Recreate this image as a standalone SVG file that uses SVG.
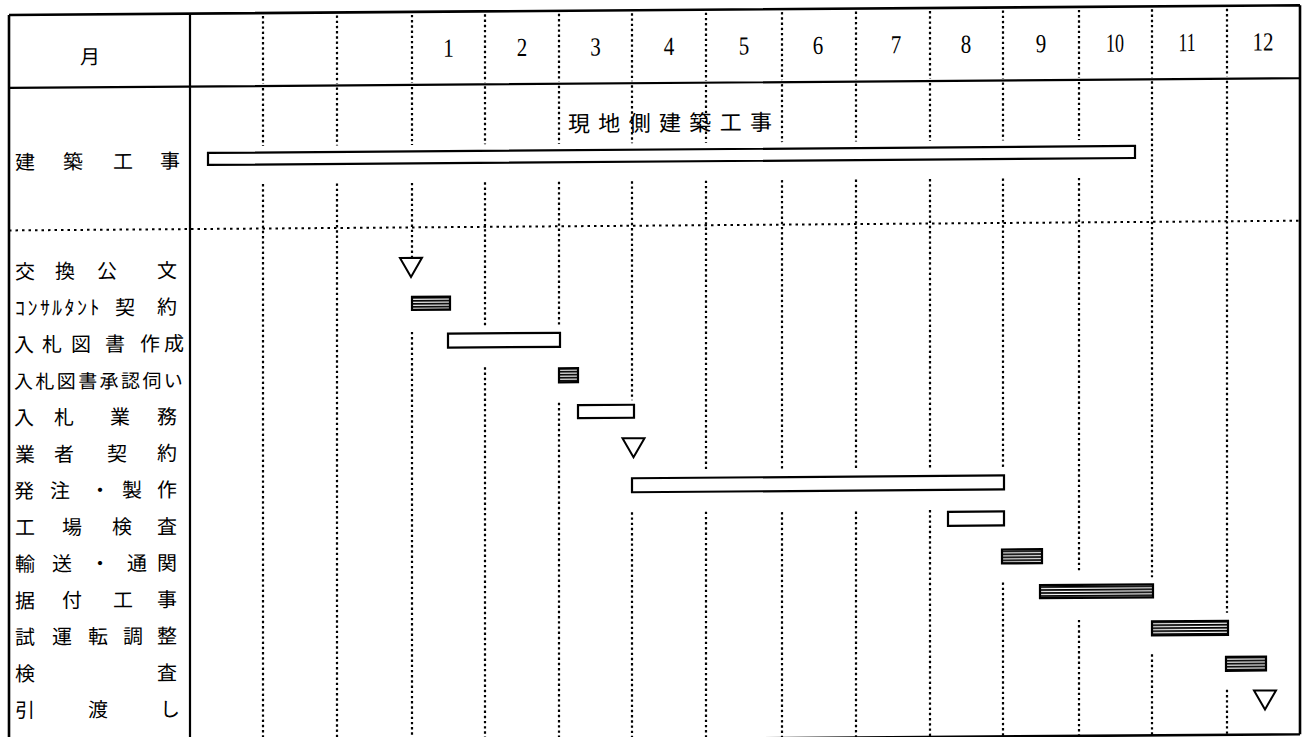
<svg xmlns="http://www.w3.org/2000/svg" width="1305" height="737" viewBox="0 0 1305 737">
<style>
.frame{fill:none;stroke:#000;stroke-width:2.6}
.rule{fill:none;stroke:#000;stroke-width:2.2}
.vdot{fill:none;stroke:#000;stroke-width:2.2;stroke-dasharray:2.4 2.8}
.hdot{fill:none;stroke:#000;stroke-width:2;stroke-dasharray:2.5 4}
.open{fill:#fff;stroke:#000;stroke-width:2.2}
.hatch{fill:url(#stripes);stroke:#000;stroke-width:2.2}
.tri{fill:#fff;stroke:#000;stroke-width:2}
.lbl{font-family:"Noto Sans CJK JP","Noto Sans CJK SC",sans-serif;font-size:20px;fill:#000;dominant-baseline:central}
.num{font-family:"Liberation Serif",serif;font-size:26px;fill:#000;text-anchor:middle}
</style>
<defs>
<pattern id="stripes" patternUnits="userSpaceOnUse" width="8" height="3">
<rect width="8" height="3" fill="#fff"/>
<rect width="8" height="1.8" fill="#000"/>
</pattern>
</defs>
<rect width="1305" height="737" fill="#fff"/>
<g transform="skewY(-0.43)">
<g id="grid">
<path class="frame" d="M9,15 H1300 M9,15 V744 M1300,15 V744 M9,744 H1300"/>
<path class="rule" d="M9,88 H1300 M190,15 V744"/>
<path class="hdot" d="M9,230.5 H1300"/>
<path class="vdot" d="
M263,18 V86 M263,90 V148 M263,186 V744
M337,18 V86 M337,90 V148 M337,186 V744
M412,18 V86 M412,90 V148 M412,186 V261 M412,335 V744
M485,18 V86 M485,90 V148 M485,186 V330 M485,371 V744
M559,18 V86 M559,90 V148 M559,186 V331 M559,407 V744
M632,18 V86 M632,90 V148 M632,186 V405 M632,517 V744
M706,18 V86 M706,90 V148 M706,186 V477 M706,517 V744
M782,18 V86 M782,90 V148 M782,186 V476 M782,518 V744
M856,18 V86 M856,90 V148 M856,186 V476 M856,518 V744
M930,18 V86 M930,90 V148 M930,186 V477 M930,517 V744
M1003,18 V86 M1003,90 V148 M1003,186 V477 M1003,590 V744
M1079,18 V86 M1079,90 V148 M1079,186 V581 M1079,628 V744
M1152,18 V86 M1152,90 V586 M1152,663 V744
M1227,18 V86 M1227,90 V622 M1227,699 V744"/>
</g>
<g id="header">
<text class="lbl" x="90" y="56" text-anchor="middle">月</text>
<text class="num" x="448.5" y="60" textLength="10.5" lengthAdjust="spacingAndGlyphs">1</text>
<text class="num" x="522" y="60" textLength="10.5" lengthAdjust="spacingAndGlyphs">2</text>
<text class="num" x="595.5" y="60" textLength="10.5" lengthAdjust="spacingAndGlyphs">3</text>
<text class="num" x="669" y="60" textLength="10.5" lengthAdjust="spacingAndGlyphs">4</text>
<text class="num" x="744" y="60" textLength="10.5" lengthAdjust="spacingAndGlyphs">5</text>
<text class="num" x="818" y="60" textLength="10.5" lengthAdjust="spacingAndGlyphs">6</text>
<text class="num" x="896" y="60" textLength="10.5" lengthAdjust="spacingAndGlyphs">7</text>
<text class="num" x="966" y="60" textLength="10.5" lengthAdjust="spacingAndGlyphs">8</text>
<text class="num" x="1041" y="60" textLength="10.5" lengthAdjust="spacingAndGlyphs">9</text>
<text class="num" x="1115" y="60" textLength="18" lengthAdjust="spacingAndGlyphs">10</text>
<text class="num" x="1187" y="60" textLength="17" lengthAdjust="spacingAndGlyphs">11</text>
<text class="num" x="1263" y="60" textLength="21" lengthAdjust="spacingAndGlyphs">12</text>
</g>
<g id="kenchiku">
<text class="lbl" x="15 63 113 160" y="161">建築工事</text>
<text class="lbl" style="font-size:22px" x="568 598.3 628.7 659 689.3 719.7 750" y="126">現地側建築工事</text>
<rect class="open" x="208" y="154.5" width="927" height="12"/>
</g>
<g id="row-koukan">
<text class="lbl" x="15 55 97 157" y="270.5">交換公文</text>
<polygon class="tri" points="400,261 422,261 411,280"/>
</g>
<g id="row-consultant">
<text class="lbl" x="15 27.5 40 52 64.5 77 89.5 102 115 157" y="307">ｺﾝｻﾙﾀﾝﾄ 契約</text>
<rect class="hatch" x="412" y="300" width="38" height="13"/>
</g>
<g id="row-nyusatsu-sakusei">
<text class="lbl" x="14 42 71 105 140 164" y="343.6">入札図書作成</text>
<rect class="open" x="448" y="337" width="112" height="14"/>
</g>
<g id="row-shonin">
<text class="lbl" style="font-size:19px" x="14 35.4 56.8 78.2 99.6 121 142.4 163.8" y="380.2">入札図書承認伺い</text>
<rect class="hatch" x="559" y="372.5" width="19" height="14"/>
</g>
<g id="row-nyusatsu-gyomu">
<text class="lbl" x="14 54 110 157" y="416.7">入札業務</text>
<rect class="open" x="578" y="409.5" width="56" height="13"/>
</g>
<g id="row-gyosha">
<text class="lbl" x="15 54 107 157" y="453.3">業者契約</text>
<polygon class="tri" points="622.5,443 644.5,443 633.5,462"/>
</g>
<g id="row-hatchu">
<text class="lbl" x="14 50 90 122 157" y="489.8">発注・製作</text>
<rect class="open" x="632" y="483" width="372" height="14"/>
</g>
<g id="row-kojo">
<text class="lbl" x="15 62 112 157" y="526.4">工場検査</text>
<rect class="open" x="948" y="519" width="56" height="14"/>
</g>
<g id="row-yuso">
<text class="lbl" x="15 52 90 127 157" y="562.9">輸送・通関</text>
<rect class="hatch" x="1002" y="557" width="40" height="14"/>
</g>
<g id="row-suetsuke">
<text class="lbl" x="15 62 113 157" y="599.5">据付工事</text>
<rect class="hatch" x="1040" y="593" width="113" height="13"/>
</g>
<g id="row-shiunten">
<text class="lbl" x="15 52 88 123 157" y="636">試運転調整</text>
<rect class="hatch" x="1152" y="630" width="76" height="14"/>
</g>
<g id="row-kensa">
<text class="lbl" x="15 157" y="672.6">検査</text>
<rect class="hatch" x="1226" y="666" width="40" height="14"/>
</g>
<g id="row-hikiwatashi">
<text class="lbl" x="15 88 160" y="709.2">引渡し</text>
<polygon class="tri" points="1254,700 1276,700 1265,719"/>
</g>
</g>
</svg>
